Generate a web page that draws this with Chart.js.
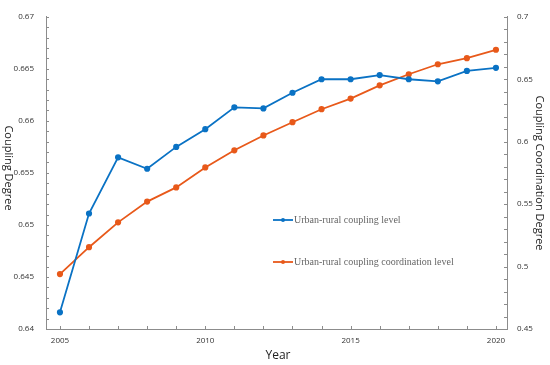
<!DOCTYPE html>
<html>
<head>
<meta charset="utf-8">
<script src="https://cdn.jsdelivr.net/npm/chart.js@4"></script>
<style>
    html, body { margin: 0; padding: 0; background: #fff; }
    #wrap { width: 550px; height: 365px; }
</style>
</head>
<body>
<div id="wrap"><canvas id="lineChart"></canvas></div>
<script>
const years = [2005, 2006, 2007, 2008, 2009, 2010, 2011, 2012, 2013, 2014, 2015, 2016, 2017, 2018, 2019, 2020];

const couplingLevel = [
    0.6416, 0.6511, 0.6565, 0.6554, 0.6575, 0.6592, 0.6613, 0.6612,
    0.6627, 0.6640, 0.6640, 0.6644, 0.6640, 0.6638, 0.6648, 0.6651
];

const coordinationLevel = [
    0.494, 0.5155, 0.5354, 0.552, 0.5634, 0.5794, 0.5931, 0.605,
    0.6156, 0.626, 0.6345, 0.6451, 0.654, 0.662, 0.6669, 0.6736
];

const leftTicks = [];
for (let i = 0; i <= 30; i++) leftTicks.push(+(0.64 + i * 0.001).toFixed(3));
const rightTicks = [];
for (let i = 0; i <= 25; i++) rightTicks.push(+(0.45 + i * 0.01).toFixed(2));
const yearTicks = years.slice();

const blue = '#0a72c4';
const orange = '#e8591a';
const axisColor = '#8c8c8c';

const legendItems = ['Urban-rural coupling level', 'Urban-rural coupling coordination level'];

// inward tick marks, titles and the legend inside the plot
const extras = {
    id: 'extras',
    afterDraw(chart) {
        const ctx = chart.ctx;
        const area = chart.chartArea;
        const sx = chart.scales.x, sy = chart.scales.y, sy2 = chart.scales.y2;
        ctx.save();
        ctx.strokeStyle = axisColor;
        ctx.lineWidth = 1;
        ctx.beginPath();
        sy.ticks.forEach(t => {
            const y = Math.round(sy.getPixelForValue(t.value)) + 0.5;
            ctx.moveTo(area.left, y);
            ctx.lineTo(area.left + 3, y);
        });
        sy2.ticks.forEach(t => {
            const y = Math.round(sy2.getPixelForValue(t.value)) + 0.5;
            ctx.moveTo(area.right, y);
            ctx.lineTo(area.right - 3, y);
        });
        sx.ticks.forEach(t => {
            const x = Math.round(sx.getPixelForValue(t.value)) + 0.5;
            ctx.moveTo(x, area.bottom);
            ctx.lineTo(x, area.bottom - 3);
        });
        ctx.stroke();

        // axis titles
        ctx.fillStyle = '#222';
        ctx.font = '12px "Open Sans"';
        ctx.textAlign = 'center';
        ctx.textBaseline = 'middle';
        ctx.fillText('Year', 278, 356);

        ctx.font = '11px "Open Sans"';
        ctx.save();
        ctx.translate(8, 168);
        ctx.rotate(Math.PI / 2);
        ctx.fillText('Coupling Degree', 0, 0);
        ctx.restore();
        ctx.save();
        ctx.translate(539, 173);
        ctx.rotate(Math.PI / 2);
        ctx.fillText('Coupling Coordination Degree', 0, 0);
        ctx.restore();

        // legend
        const colors = [blue, orange];
        const rows = [220, 262];
        ctx.font = '10px "Liberation Serif"';
        ctx.textAlign = 'left';
        legendItems.forEach((txt, i) => {
            const y = rows[i];
            ctx.strokeStyle = colors[i];
            ctx.lineWidth = 1.8;
            ctx.beginPath();
            ctx.moveTo(273, y);
            ctx.lineTo(293, y);
            ctx.stroke();
            ctx.fillStyle = colors[i];
            ctx.beginPath();
            ctx.arc(283, y, 2, 0, Math.PI * 2);
            ctx.fill();
            ctx.fillStyle = '#666';
            ctx.fillText(txt, 294, y);
        });
        ctx.restore();
    }
};

const ctx = document.getElementById('lineChart').getContext('2d');
const lineChart = new Chart(ctx, {
    type: 'line',
    data: {
        datasets: [{
            label: legendItems[0],
            data: years.map((yr, i) => ({ x: yr, y: couplingLevel[i] })),
            borderColor: blue,
            backgroundColor: blue,
            borderWidth: 1.8,
            pointRadius: 2.2,
            pointHoverRadius: 2.2,
            yAxisID: 'y'
        }, {
            label: legendItems[1],
            data: years.map((yr, i) => ({ x: yr, y: coordinationLevel[i] })),
            borderColor: orange,
            backgroundColor: orange,
            borderWidth: 1.8,
            pointRadius: 2.2,
            pointHoverRadius: 2.2,
            yAxisID: 'y2'
        }]
    },
    options: {
        responsive: true,
        maintainAspectRatio: false,
        animation: false,
        layout: { padding: { top: 7, left: 0, right: 0, bottom: 0 } },
        scales: {
            x: {
                type: 'linear',
                min: 2004.52,
                max: 2020.38,
                afterBuildTicks: s => { s.ticks = yearTicks.map(v => ({ value: v })); },
                afterFit: s => { s.height = 36; },
                grid: { display: false, drawTicks: false },
                border: { color: axisColor },
                ticks: {
                    autoSkip: false,
                    maxRotation: 0,
                    padding: 7,
                    color: '#333',
                    font: { family: '"Open Sans"', size: 8 },
                    callback: v => (v % 5 === 0 ? String(v) : '')
                }
            },
            y: {
                position: 'left',
                min: 0.64,
                max: 0.67,
                afterBuildTicks: s => { s.ticks = leftTicks.map(v => ({ value: v })); },
                afterFit: s => { s.width = 46; },
                grid: { display: false, drawTicks: false },
                border: { color: axisColor },
                ticks: {
                    autoSkip: false,
                    padding: 12,
                    color: '#333',
                    font: { family: '"Open Sans"', size: 8 },
                    callback: (v, i) => (i % 5 === 0 ? String(+v.toFixed(3)) : '')
                }
            },
            y2: {
                position: 'right',
                min: 0.45,
                max: 0.7,
                afterBuildTicks: s => { s.ticks = rightTicks.map(v => ({ value: v })); },
                afterFit: s => { s.width = 43; },
                grid: { display: false, drawTicks: false },
                border: { color: axisColor },
                ticks: {
                    autoSkip: false,
                    padding: 10,
                    color: '#333',
                    font: { family: '"Open Sans"', size: 8 },
                    callback: (v, i) => (i % 5 === 0 ? String(+v.toFixed(2)) : '')
                }
            }
        },
        plugins: {
            legend: { display: false },
            tooltip: { enabled: false }
        }
    },
    plugins: [extras]
});
</script>
</body>
</html>
